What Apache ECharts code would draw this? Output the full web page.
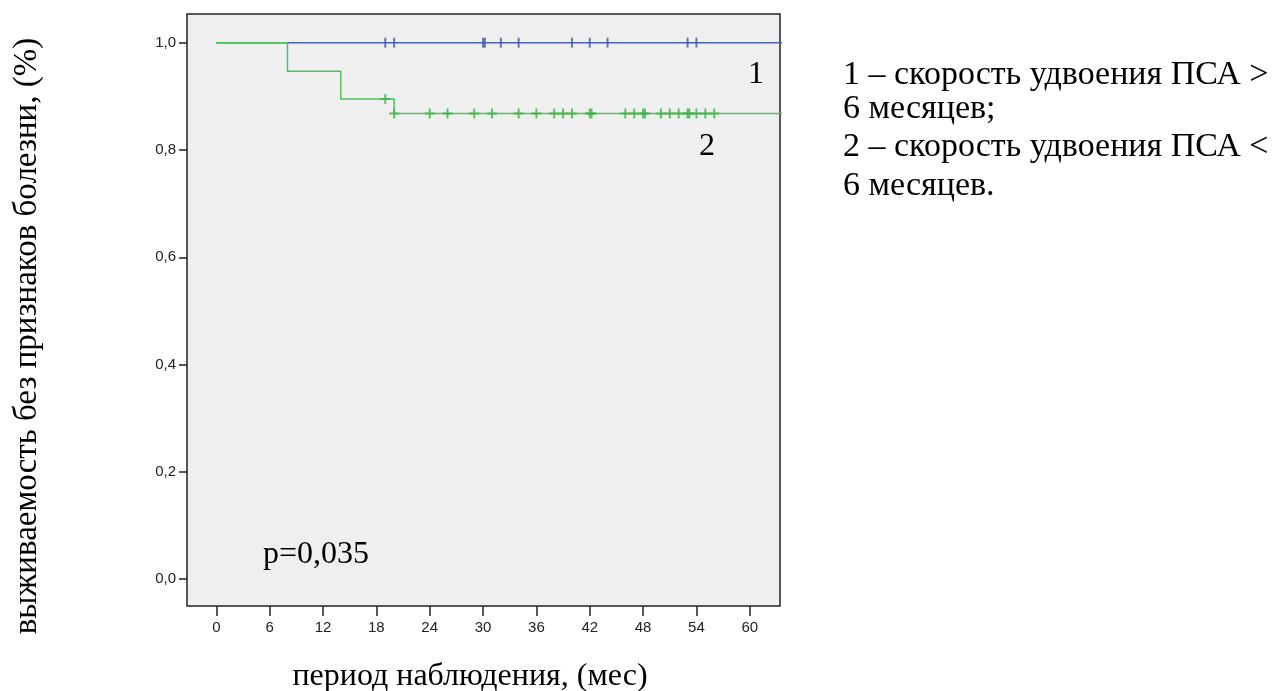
<!DOCTYPE html>
<html>
<head>
<meta charset="utf-8">
<script src="https://cdn.jsdelivr.net/npm/echarts@6/dist/echarts.min.js"></script>
<style>
html,body{margin:0;padding:0;background:#fff;}
#chart{width:1276px;height:691px;}
</style>
</head>
<body>
<div id="chart"></div>
<script>
// Kaplan-Meier curves: [time (months), survival]
const curve1 = [[0, 1.0], [64, 1.0]];
const curve2 = [[0, 1.0], [8, 0.947], [14, 0.895], [20, 0.868], [64, 0.868]];
// censored observations (months)
const censor1 = [19, 20, 30, 30.2, 32, 34, 40, 42, 44, 53, 54];
const censor2 = [19, 20, 24, 26, 29, 31, 34, 36, 38, 39, 40, 42, 42.2, 46, 47, 48, 48.2, 50, 51, 52, 53, 53.2, 54, 55, 56];
const xTicks = [0, 6, 12, 18, 24, 30, 36, 42, 48, 54, 60];
const yTicks = [0, 0.2, 0.4, 0.6, 0.8, 1.0];
const xTitle = 'период наблюдения, (мес)';
const yTitle = 'выживаемость без признаков болезни, (%)';
const pText = 'p=0,035';
const legendLines = ['1 – скорость удвоения ПСА >', '6 месяцев;', '2 – скорость удвоения ПСА <', '6 месяцев.'];

function survivalAt(curve, t) {
  let v = curve[0][1];
  for (const p of curve) { if (p[0] <= t) v = p[1]; }
  return v;
}

const blue = '#4a62b4';
const green = '#4cc25a';
const serif = '"Liberation Serif", "DejaVu Serif", serif';
const sans = '"Liberation Sans", Arial, sans-serif';
const plus = 'path://M4,0h2v4h4v2h-4v4h-2v-4h-4v-2h4z';

const chart = echarts.init(document.getElementById('chart'));
chart.setOption({
  animation: false,
  backgroundColor: '#ffffff',
  grid: {
    left: 187, right: 496, top: 14, bottom: 85,
    show: true, backgroundColor: '#efefef', borderColor: '#222', borderWidth: 1.5
  },
  xAxis: {
    type: 'value', min: -3.3, max: 63.4,
    splitLine: { show: false },
    axisLine: { show: false, onZero: false },
    axisTick: { show: true, customValues: xTicks, length: 10, lineStyle: { color: '#222', width: 1.5 } },
    axisLabel: { customValues: xTicks, margin: 14, color: '#222', fontSize: 15, fontFamily: sans }
  },
  yAxis: {
    type: 'value', min: -0.05, max: 1.0535,
    splitLine: { show: false },
    axisLine: { show: false, onZero: false },
    axisTick: { show: true, customValues: yTicks, length: 8, lineStyle: { color: '#222', width: 1.5 } },
    axisLabel: {
      customValues: yTicks, margin: 11, color: '#222', fontSize: 15, fontFamily: sans,
      formatter: v => v.toFixed(1).replace('.', ',')
    }
  },
  series: [
    { type: 'line', step: 'end', data: curve1, showSymbol: false, lineStyle: { color: blue, width: 1.5 }, z: 2 },
    { type: 'line', step: 'end', data: curve2, showSymbol: false, lineStyle: { color: green, width: 1.5 }, z: 3 },
    { type: 'scatter', data: censor1.map(t => [t, survivalAt(curve1, t)]), symbol: 'rect', symbolSize: [2, 10], itemStyle: { color: '#4258aa' }, z: 4 },
    { type: 'scatter', data: censor2.map(t => [t, survivalAt(curve2, t)]), symbol: plus, symbolSize: 10, itemStyle: { color: '#3cb04a' }, z: 5 }
  ],
  graphic: [
    { type: 'text', x: 27, y: 336, rotation: Math.PI / 2, style: { text: yTitle, font: '33px ' + serif, fill: '#000', textAlign: 'center', textVerticalAlign: 'middle' } },
    { type: 'text', x: 470, y: 677, style: { text: xTitle, font: '32px ' + serif, fill: '#000', textAlign: 'center', textVerticalAlign: 'middle' } },
    { type: 'text', x: 263, y: 555, style: { text: pText, font: '32px ' + serif, fill: '#000', textAlign: 'left', textVerticalAlign: 'middle' } },
    { type: 'text', x: 756, y: 75, style: { text: '1', font: '32px ' + serif, fill: '#000', textAlign: 'center', textVerticalAlign: 'middle' } },
    { type: 'text', x: 707, y: 147, style: { text: '2', font: '32px ' + serif, fill: '#000', textAlign: 'center', textVerticalAlign: 'middle' } },
    { type: 'text', x: 843, y: 75, style: { text: legendLines[0], font: '34px ' + serif, fill: '#000', textAlign: 'left', textVerticalAlign: 'middle' } },
    { type: 'text', x: 843, y: 109, style: { text: legendLines[1], font: '34px ' + serif, fill: '#000', textAlign: 'left', textVerticalAlign: 'middle' } },
    { type: 'text', x: 843, y: 147, style: { text: legendLines[2], font: '34px ' + serif, fill: '#000', textAlign: 'left', textVerticalAlign: 'middle' } },
    { type: 'text', x: 843, y: 186, style: { text: legendLines[3], font: '34px ' + serif, fill: '#000', textAlign: 'left', textVerticalAlign: 'middle' } }
  ]
});
</script>
</body>
</html>
